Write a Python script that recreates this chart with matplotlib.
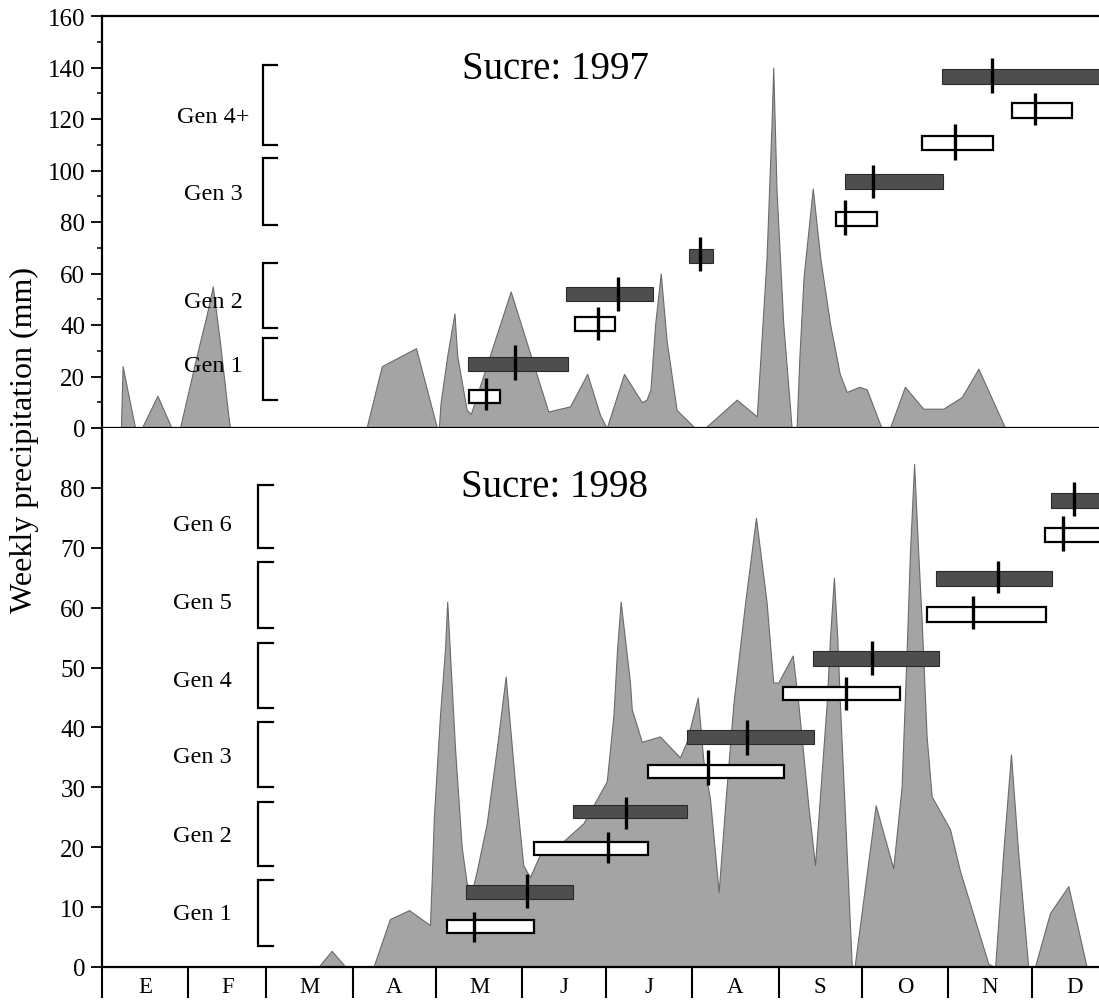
import matplotlib
matplotlib.use("Agg")
import matplotlib.pyplot as plt
from matplotlib.patches import Rectangle
from matplotlib.transforms import blended_transform_factory

plt.rcParams["font.family"] = ["Liberation Serif", "DejaVu Serif"]

# ---------------------------------------------------------------------------
# Data (x = day of year)
# ---------------------------------------------------------------------------

MONTH_START = [0, 31, 59, 90, 120, 151, 181, 212, 243, 273, 304, 334, 365]
MONTH_LABELS = ["E", "F", "M", "A", "M", "J", "J", "A", "S", "O", "N", "D"]

# weekly precipitation outline, 1997
rain97_day = [0, 6.8, 7.4, 11.9, 14.3, 19.9, 25.0, 28.0, 34.0, 37.6, 39.8, 42.4,
              45.4, 46.0, 95.0, 100.5, 112.8, 120.2, 121.0, 121.6, 124.0, 126.6,
              127.6, 131.0, 132.5, 146.8, 160.3, 168.1, 174.3, 178.9, 181.3,
              187.5, 193.9, 195.6, 197.0, 198.7, 200.7, 202.8, 206.4, 213.0,
              216.6, 228.0, 235.2, 238.7, 240.5, 241.1, 242.3, 244.7, 247.1,
              247.7, 249.5, 250.5, 252.0, 255.3, 258.0, 261.5, 265.0, 267.5,
              272.0, 274.7, 280.0, 283.0, 288.4, 295.0, 302.2, 308.8, 314.8,
              324.4, 365]
rain97_mm = [0, 0, 24, 0, 0, 12.5, 0, 0, 28, 44, 55, 33,
             4.5, 0, 0, 24, 31, 0.5, 0, 9.7, 28, 44.5,
             28, 7, 5.5, 53, 6.4, 8.4, 21, 5, 0,
             21, 10, 11, 15, 40.5, 60, 34, 7, 0,
             0, 11, 4.5, 66, 118, 140, 92, 40.5, 8.4,
             0, 0, 27.7, 58.6, 93, 66, 40.5, 21, 14,
             16, 15, 0, 0, 16, 7.5, 7.5, 12, 23,
             0, 0]

# weekly precipitation outline, 1998
rain98_day = [0, 77.7, 82.5, 87.5, 97.5, 103.4, 110.3, 117.8, 118.4, 119.2,
              121.4, 123.2, 124.0, 126.8, 129.2, 131.0, 132.8, 134.6, 138.2,
              141.8, 145.0, 148.3, 151.3, 153.7, 158.5, 165.7, 172.9, 181.3,
              183.7, 185.0, 186.3, 189.6, 190.3, 193.9, 200.4, 207.6, 210.0,
              214.0, 216.0, 218.4, 221.5, 224.0, 226.8, 231.0, 234.9, 238.7,
              241.1, 242.9, 248.1, 250.1, 253.7, 256.1, 260.3, 261.5, 262.9,
              264.1, 265.1, 267.2, 269.3, 270.3, 277.9, 284.2, 287.2, 289.0,
              290.2, 291.7, 293.2, 294.4, 296.2, 298.0, 304.6, 308.2, 318.4,
              320.8, 323.7, 326.5, 329.1, 332.7, 335.1, 340.5, 347.1, 353.7, 365]
rain98_mm = [0, 0, 2.7, 0, 0, 8, 9.5, 7, 14.2, 25,
             42, 53, 61, 36.5, 20, 14, 12.5, 16, 24,
             36.5, 48.5, 31, 17, 15, 20, 21, 24, 31,
             42, 53, 61, 47.7, 43, 37.6, 38.5, 35, 37.6,
             45, 34.5, 28, 12.5, 28, 44, 60.8, 75, 61,
             47.5, 47.5, 52, 44, 27, 17, 44, 55, 65,
             55, 43.5, 22, 0.3, 0, 27, 16.5, 30, 52.4,
             69, 84, 69, 58, 38.5, 28.5, 23, 16, 0.5,
             0, 19, 35.5, 19, 0, 0, 9, 13.5, 0, 0]

# generation boxes, 1997 (w = open box, d = filled bar)
gen97_start = [131.9, 131.6, 169.9, 166.7, 211.0, 263.6, 266.9, 294.7, 326.7, 301.6]
gen97_end = [143.0, 167.3, 184.3, 197.8, 219.3, 278.3, 302.2, 320.2, 348.3, 365.0]
gen97_lo = [9.7, 22.1, 37.5, 49.3, 64.0, 78.5, 92.7, 107.8, 120.3, 133.5]
gen97_hi = [14.8, 27.7, 43.0, 54.8, 69.5, 84.0, 98.5, 113.5, 126.1, 139.3]
gen97_mark = [137.8, 148.3, 178.3, 185.5, 214.8, 266.9, 277.0, 306.4, 335.1, 319.6]
gen97_mark_lo = [7.1, 18.7, 34.0, 45.4, 61.1, 75.0, 89.2, 104.2, 117.8, 130.0]
gen97_mark_hi = [19.3, 32.2, 47.0, 58.6, 74.0, 88.4, 102.0, 118.0, 130.2, 143.5]
gen97_kind = ["w", "d", "w", "d", "d", "w", "d", "w", "w", "d"]

# generation boxes, 1998
gen98_start = [124.0, 130.7, 155.2, 169.1, 196.2, 210.0, 244.7, 255.5, 296.5, 299.6, 338.7, 340.7]
gen98_end = [155.2, 169.3, 196.2, 210.2, 244.9, 255.9, 286.6, 300.8, 339.1, 341.3, 365.0, 365.0]
gen98_lo = [5.6, 11.3, 18.7, 24.8, 31.6, 37.2, 44.5, 50.3, 57.6, 63.7, 70.9, 76.7]
gen98_hi = [7.8, 13.7, 20.9, 27.0, 33.8, 39.6, 46.8, 52.7, 60.1, 66.2, 73.3, 79.2]
gen98_mark = [133.7, 152.5, 181.6, 188.1, 217.6, 231.6, 267.1, 276.5, 312.7, 322.0, 345.3, 349.2]
gen98_mark_lo = [4.2, 9.8, 17.3, 23.1, 30.4, 35.4, 42.9, 48.8, 56.4, 62.4, 69.4, 75.3]
gen98_mark_hi = [9.2, 15.6, 22.6, 28.4, 36.3, 41.3, 48.4, 54.5, 61.9, 67.8, 75.3, 81.0]
gen98_kind = ["w", "d"] * 6

# generation brackets + labels
brk97_names = ["Gen 4+", "Gen 3", "Gen 2", "Gen 1"]
brk97_lo = [110, 79, 39, 11]
brk97_hi = [141, 105, 64, 35]
brk97_text_y = [121, 91, 49, 24.4]

brk98_names = ["Gen 6", "Gen 5", "Gen 4", "Gen 3", "Gen 2", "Gen 1"]
brk98_lo = [70.0, 56.6, 43.2, 30.1, 16.9, 3.5]
brk98_hi = [80.5, 67.6, 54.1, 40.9, 27.6, 14.5]
brk98_text_y = [73.9, 60.8, 47.9, 35.1, 22.0, 8.9]

# ---------------------------------------------------------------------------
# Figure
# ---------------------------------------------------------------------------

W, H = 1099, 1003
fig = plt.figure(figsize=(W / 100, H / 100), dpi=100)
L = 102 / W
ax1 = fig.add_axes([L, 1 - 429 / H, 1 - L, (429 - 17) / H])
ax2 = fig.add_axes([L, 1 - 968 / H, 1 - L, (968 - 429) / H])
XMAX = (W - 102) / 2.784

FILL = "#a4a4a4"
DARK = "#4e4e4e"


def draw_panel(ax, day, mm, starts, ends, lo, hi, mark, mlo, mhi, kind,
               names, blo, bhi, ty, bx0, bx1, tx, title, title_y, ymax):
    ax.fill_between(day, 0, mm, facecolor=FILL, edgecolor="#6a6a6a",
                    linewidth=0.8, zorder=1)
    for s, e, a, b, k in zip(starts, ends, lo, hi, kind):
        if k == "w":
            r = Rectangle((s, a), e - s, b - a, facecolor="white",
                          edgecolor="black", linewidth=1.6, zorder=3)
        else:
            r = Rectangle((s, a), e - s, b - a, facecolor=DARK,
                          edgecolor="#2a2a2a", linewidth=0.8, zorder=3)
        ax.add_patch(r)
    ax.vlines(mark, mlo, mhi, colors="black", linewidth=2.4, zorder=4)
    for n, a, b, y in zip(names, blo, bhi, ty):
        ax.plot([bx1, bx0, bx0, bx1], [b, b, a, a], color="black",
                linewidth=1.6, solid_joinstyle="miter", zorder=2)
        ax.text(tx, y, n, ha="center", va="center", fontsize=17.5, zorder=5)
    ax.text(162.7, title_y, title, ha="center", va="baseline", fontsize=28,
            zorder=5)
    ax.set_xlim(0, XMAX)
    ax.set_ylim(0, ymax)
    ax.spines["right"].set_visible(False)
    for sp in ax.spines.values():
        sp.set_linewidth(1.6)
    ax.tick_params(axis="y", direction="out", length=8, width=1.3,
                   labelsize=18, pad=4)
    ax.tick_params(axis="y", which="minor", length=3.5, width=1.1)


draw_panel(ax1, rain97_day, rain97_mm, gen97_start, gen97_end, gen97_lo,
           gen97_hi, gen97_mark, gen97_mark_lo, gen97_mark_hi, gen97_kind,
           brk97_names, brk97_lo, brk97_hi, brk97_text_y, 57.9, 62.8, 40.0,
           "Sucre: 1997", 136, 160)
draw_panel(ax2, rain98_day, rain98_mm, gen98_start, gen98_end, gen98_lo,
           gen98_hi, gen98_mark, gen98_mark_lo, gen98_mark_hi, gen98_kind,
           brk98_names, brk98_lo, brk98_hi, brk98_text_y, 56.1, 61.5, 36.2,
           "Sucre: 1998", 78.7, 90)

ax1.set_yticks(range(0, 161, 20))
ax1.set_yticks(range(10, 160, 20), minor=True)
ax1.set_xticks([])

ax2.spines["top"].set_visible(False)
ax2.set_yticks(range(0, 81, 10))
ax2.set_xticks(MONTH_START[:-1])
ax2.set_xticklabels([])
ax2.tick_params(axis="x", direction="out", length=22, width=1.5)

trans = blended_transform_factory(ax2.transData, ax2.transAxes)
for i, lab in enumerate(MONTH_LABELS):
    mid = (MONTH_START[i] + MONTH_START[i + 1]) / 2
    ax2.text(mid, -20 / 539, lab, transform=trans, ha="center", va="center",
             fontsize=16.5, clip_on=False)

fig.text(24 / W, 1 - 440 / H, "Weekly precipitation (mm)", rotation=90,
         ha="center", va="center", fontsize=23)

fig.savefig("out.png", dpi=100)
